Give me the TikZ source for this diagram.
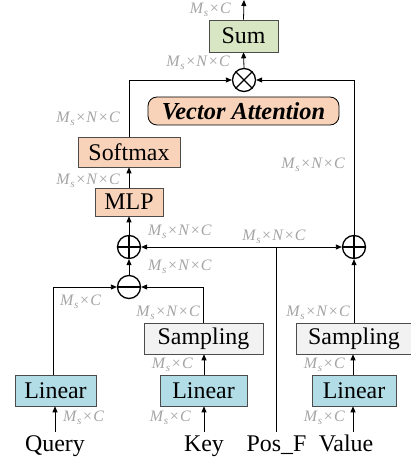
\documentclass[tikz,border=0pt]{standalone}
\usepackage{fontspec}
\setmainfont{Liberation Serif}
\usetikzlibrary{arrows.meta}
\definecolor{sumgreen}{HTML}{D8E6C4}
\definecolor{peach}{HTML}{F8D3BA}
\definecolor{sampgray}{HTML}{F2F2F2}
\definecolor{linblue}{HTML}{B3DDE6}
\definecolor{labgray}{HTML}{A4A4A4}
\newcommand{\tms}{\hspace{0.07em}×\hspace{0.07em}}
\newcommand{\MNC}{\textit{M}\textsubscript{\textit{s}}\tms\textit{N}\tms\textit{C}}
\newcommand{\MC}{\textit{M}\textsubscript{\textit{s}}\tms\textit{C}}
\begin{document}
\begin{tikzpicture}[x=1bp,y=-1bp,
  box/.style={draw=black!70,line width=0.6bp,inner sep=0pt,font=\fontsize{24}{26}\selectfont},
  lab/.style={text=labgray,inner sep=0pt,font=\fontsize{16}{17}\selectfont},
  op/.style={circle,draw,line width=1.3bp,minimum size=23bp,inner sep=0pt},
  arr/.style={-{Triangle[length=6bp,width=5bp]},line width=0.8bp},
  ln/.style={line width=0.8bp},
  word/.style={inner sep=0pt,font=\fontsize{24}{26}\selectfont}]
\useasboundingbox (0,0) rectangle (410,462);
% boxes
\node[box,fill=sumgreen,minimum width=69bp,minimum height=32bp] (sum) at (243.5,36) {Sum};
\node[box,fill=peach,minimum width=102bp,minimum height=30bp] (softmax) at (129,152) {Softmax};
\node[box,fill=peach,minimum width=68bp,minimum height=28bp] (mlp) at (129,202) {MLP};
\node[box,fill=sampgray,minimum width=119bp,minimum height=31bp] (samp1) at (203.5,338.5) {Sampling};
\node[box,fill=sampgray,minimum width=116bp,minimum height=31bp] (samp2) at (354,338.5) {Sampling};
\node[box,fill=linblue,minimum width=81bp,minimum height=31bp] (lin1) at (55.5,390.5) {Linear};
\node[box,fill=linblue,minimum width=87bp,minimum height=31bp] (lin2) at (203.5,390.5) {Linear};
\node[box,fill=linblue,minimum width=84bp,minimum height=31bp] (lin3) at (354,390.5) {Linear};
\node[draw,line width=0.8bp,rounded corners=9bp,fill=peach,minimum width=191bp,minimum height=28bp,inner sep=0pt,font=\fontsize{24.5}{26}\selectfont\bfseries\itshape] (va) at (243.5,111) {Vector Attention};
% operators
\node[op] (mul) at (244,80) {};
\draw[line width=1.3bp] (mul.north west) -- (mul.south east) (mul.north east) -- (mul.south west);
\node[op] (add1) at (129,247) {};
\draw[line width=1.3bp] (add1.north) -- (add1.south) (add1.west) -- (add1.east);
\node[op] (add2) at (354,247) {};
\draw[line width=1.3bp] (add2.north) -- (add2.south) (add2.west) -- (add2.east);
\node[op] (sub) at (129,287) {};
\draw[line width=1.3bp] (sub.west) -- (sub.east);
% inputs
\node[word,anchor=base] (q) at (55,451) {Query};
\node[word,anchor=base] (k) at (204,451) {Key};
\node[word,anchor=base] (p) at (276.5,451) {Pos\_F};
\node[word,anchor=base] (v) at (346,451) {Value};
\coordinate (out) at (244,0);
\coordinate (qin) at (55,432);
\coordinate (kin) at (204,432);
\coordinate (pin) at (276,432);
\coordinate (vin) at (353,432);
\coordinate (pj) at (276,247);
% connectors
\draw[arr] (sum.north) -- (out);
\draw[arr] (mul.north) -- (sum.south);
\draw[arr] (softmax.north) |- (mul.west);
\draw[arr] (add2.north) |- (mul.east);
\draw[arr] (mlp.north) -- (softmax.south);
\draw[arr] (add1.north) -- (mlp.south);
\draw[arr] (sub.north) -- (add1.south);
\draw[ln] (pin) -- (pj);
\draw[arr] (pj) -- (add1.east);
\draw[arr] (pj) -- (add2.west);
\draw[arr] (samp2.north -| add2) -- (add2.south);
\draw[arr] (lin1.north -| 53,0) |- (sub.west);
\draw[arr] (samp1.north -| 203,0) |- (sub.east);
\draw[arr] (lin2.north -| 204,0) -- (samp1.south -| 204,0);
\draw[arr] (lin3.north -| 353,0) -- (samp2.south -| 353,0);
\draw[arr] (qin) -- (lin1.south -| qin);
\draw[arr] (kin) -- (lin2.south -| kin);
\draw[arr] (vin) -- (lin3.south -| vin);
% labels
\node[lab,anchor=east] (l1) at (231,10) {\MC};
\node[lab,anchor=east] (l2) at (230,63) {\MNC};
\node[lab,anchor=east] (l3) at (120,119) {\MNC};
\node[lab,anchor=east] (l4) at (120,181) {\MNC};
\node[lab,anchor=east] (l5) at (345,165) {\MNC};
\node[lab,anchor=west] (l6) at (148,232) {\MNC};
\node[lab,anchor=center] (l7) at (274,237) {\MNC};
\node[lab,anchor=west] (l8) at (148,267) {\MNC};
\node[lab,anchor=west] (l9) at (60,302) {\MC};
\node[lab,anchor=east] (l10) at (200,313) {\MNC};
\node[lab,anchor=east] (l11) at (350,313) {\MNC};
\node[lab,anchor=east] (l12) at (193,365) {\MC};
\node[lab,anchor=east] (l13) at (345,365) {\MC};
\node[lab,anchor=west] (l14) at (63,418) {\MC};
\node[lab,anchor=east] (l15) at (191,418) {\MC};
\node[lab,anchor=east] (l16) at (345,418) {\MC};
\end{tikzpicture}
\end{document}
